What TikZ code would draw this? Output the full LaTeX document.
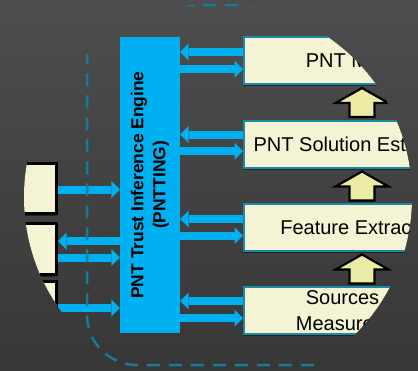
\documentclass[tikz,border=0pt]{standalone}
\usepackage{fontspec}
\setmainfont{Liberation Sans}
\usetikzlibrary{arrows.meta,shadows}
\definecolor{bgtop}{HTML}{4D4D4D}
\definecolor{bgbot}{HTML}{373737}
\definecolor{cream}{HTML}{F4F4D4}
\definecolor{tealb}{HTML}{1A8BA7}
\definecolor{dashc}{HTML}{167C97}
\definecolor{engblue}{HTML}{00B0F0}
\definecolor{upfill}{HTML}{EBEBA6}
\begin{document}
\begin{tikzpicture}[x=1pt,y=-1pt,
  rbox/.style={draw=tealb, line width=2pt, fill=cream, minimum width=236pt,
    minimum height=47pt, inner sep=0pt, font=\fontsize{20}{26}\selectfont, align=center,
    drop shadow={shadow xshift=-1.5pt, shadow yshift=-2pt, opacity=0.45, fill=black}},
  lbox/.style={draw=black, line width=3pt, fill=cream, inner sep=0pt, minimum width=76.5pt,
    drop shadow={shadow xshift=-1.5pt, shadow yshift=-2pt, opacity=0.45, fill=black}},
  barrow/.style={draw=engblue, line width=8pt, -{Triangle[width=17pt,length=8.5pt,line width=0pt]}},
  uparrow/.style={draw=black, line width=2.2pt, fill=upfill, line join=miter},
  dashline/.style={draw=dashc, line width=2.5pt, dash pattern=on 13pt off 9pt},
  englabel/.style={rotate=90, align=center, font=\bfseries\fontsize{17.4}{22}\selectfont},
]
\useasboundingbox (0,0) rectangle (418,370);
\fill[top color=bgtop, bottom color=bgbot] (0,0) rectangle (418,370);
\begin{scope}
\clip (218,197) circle[radius=194pt];
% engine
\node[fill=engblue, minimum width=60pt, minimum height=296pt, inner sep=0pt] (eng) at (150,185) {};
\node[englabel] (englab) at (eng.center) {PNT Trust Inference Engine\\(PNTTING)};
% right boxes
\node[rbox] (b1) at (362,60.5) {PNT Monitor};
\node[rbox] (b2) at (362,144) {PNT Solution Estimation};
\node[rbox] (b3) at (362,227) {Feature Extraction};
\node[rbox] (b4) at (362,310.5) {Sources and\\Measurements};
% left boxes
\node[lbox, minimum height=50pt] (lb1) at (18.25,188.5) {};
\node[lbox, minimum height=51pt] (lb2) at (18.25,249) {};
\node[lbox, minimum height=78.5pt] (lb3) at (18.25,320.75) {};
% right arrows
\draw[barrow] (b1.west |- 0,52) -- (eng.east |- 0,52);
\draw[barrow] (eng.east |- 0,69) -- (b1.west |- 0,69);
\draw[barrow] (b2.west |- 0,134.5) -- (eng.east |- 0,134.5);
\draw[barrow] (eng.east |- 0,151) -- (b2.west |- 0,151);
\draw[barrow] (b3.west |- 0,219) -- (eng.east |- 0,219);
\draw[barrow] (eng.east |- 0,235.5) -- (b3.west |- 0,235.5);
\draw[barrow] (b4.west |- 0,301) -- (eng.east |- 0,301);
\draw[barrow] (eng.east |- 0,318) -- (b4.west |- 0,318);
% left arrows
\draw[barrow] (lb1.east |- 0,189.5) -- (eng.west |- 0,189.5);
\draw[barrow] (eng.west |- 0,241) -- (lb2.east |- 0,241);
\draw[barrow] (lb2.east |- 0,257.5) -- (eng.west |- 0,257.5);
\draw[barrow] (lb3.east |- 0,308) -- (eng.west |- 0,308);
% up block arrows
\draw[uparrow] ([yshift=-3pt]b2.north |- b1.south) -- ++(26.5,15) -- ++(-14,0) -- ++(0,14) -- ++(-25,0) -- ++(0,-14) -- ++(-14,0) -- cycle;
\draw[uparrow] ([yshift=-3pt]b3.north |- b2.south) -- ++(26.5,15) -- ++(-14,0) -- ++(0,14) -- ++(-25,0) -- ++(0,-14) -- ++(-14,0) -- cycle;
\draw[uparrow] ([yshift=-3pt]b4.north |- b3.south) -- ++(26.5,15) -- ++(-14,0) -- ++(0,14) -- ++(-25,0) -- ++(0,-14) -- ++(-14,0) -- cycle;
% dashed frame
\draw[dashline, rounded corners=50pt] (480,5) -- (87,5) -- (87,365) -- (480,365);
\end{scope}
\end{tikzpicture}
\end{document}
